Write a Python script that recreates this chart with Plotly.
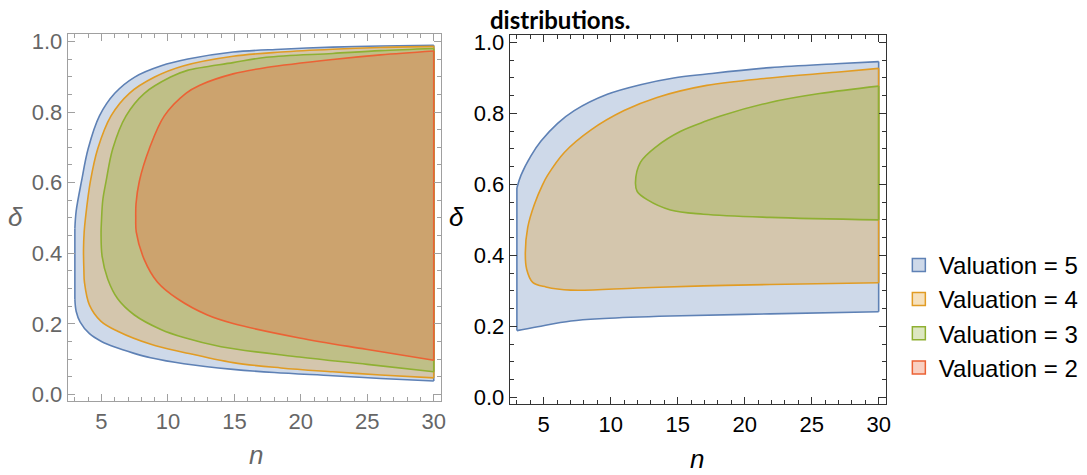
import plotly.graph_objects as go

# ---------------- data ----------------
# Left panel
L5_up_n = [3.0, 3.1, 3.5, 4.0, 4.85, 6.0, 7.5, 9.5, 11.5, 14.9, 18.5, 22.4, 26.0, 30.0]
L5_up_d = [0.47, 0.52, 0.604, 0.696, 0.789, 0.853, 0.899, 0.931, 0.950, 0.970, 0.978, 0.984, 0.987, 0.989]
L5_lo_n = [3.0, 3.1, 3.4, 4.1, 5.0, 6.0, 7.4, 8.7, 11.2, 14.9, 18.0, 22.4, 26.0, 30.0]
L5_lo_d = [0.27, 0.235, 0.205, 0.172, 0.150, 0.134, 0.117, 0.104, 0.087, 0.071, 0.062, 0.053, 0.045, 0.038]

L4_up_n = [3.65, 3.7, 3.8, 4.17, 4.72, 5.72, 7.1, 9.0, 11.2, 14.9, 18.5, 22.4, 26.0, 30.0]
L4_up_d = [0.41, 0.46, 0.50, 0.604, 0.696, 0.789, 0.853, 0.899, 0.931, 0.958, 0.970, 0.978, 0.983, 0.986]
L4_lo_n = [3.68, 3.72, 4.1, 4.97, 6.22, 8.72, 11.2, 14.9, 18.5, 22.4, 26.0, 30.0]
L4_lo_d = [0.35, 0.318, 0.253, 0.207, 0.179, 0.142, 0.119, 0.090, 0.075, 0.064, 0.055, 0.047]

L3_up_n = [4.97, 5.0, 5.1, 5.35, 5.85, 6.85, 8.23, 10.2, 11.47, 14.9, 17.4, 22.4, 26.0, 30.0]
L3_up_d = [0.456, 0.49, 0.55, 0.604, 0.696, 0.789, 0.853, 0.899, 0.918, 0.940, 0.955, 0.966, 0.974, 0.980]
L3_lo_n = [5.05, 5.47, 6.22, 7.48, 9.47, 11.2, 14.0, 19.9, 25.0, 30.0]
L3_lo_d = [0.391, 0.327, 0.271, 0.225, 0.184, 0.161, 0.135, 0.106, 0.085, 0.064]

L2_up_n = [7.58, 7.6, 7.85, 8.6, 9.73, 11.35, 12.4, 14.9, 17.4, 22.4, 26.0, 30.0]
L2_up_d = [0.50, 0.54, 0.604, 0.696, 0.789, 0.853, 0.876, 0.908, 0.926, 0.949, 0.962, 0.973]
L2_lo_n = [7.62, 8.22, 9.22, 10.72, 12.97, 14.9, 19.9, 24.9, 30.0]
L2_lo_d = [0.46, 0.382, 0.318, 0.271, 0.225, 0.201, 0.160, 0.128, 0.097]

# Right panel
R5_up_n = [3.0, 3.31, 4.06, 4.8, 6.04, 7.28, 9.75, 12.22, 14.7, 17.17, 21.9, 26.8, 30.0]
R5_up_d = [0.59, 0.626, 0.681, 0.722, 0.772, 0.808, 0.854, 0.881, 0.900, 0.911, 0.929, 0.940, 0.946]
R5_lo_n = [3.0, 4.55, 7.03, 9.5, 14.46, 21.88, 30.0]
R5_lo_d = [0.188, 0.199, 0.215, 0.222, 0.229, 0.235, 0.241]

R4_up_n = [3.63, 3.81, 4.31, 4.93, 5.3, 6.54, 8.51, 11.0, 13.46, 17.17, 21.88, 26.83, 30.0]
R4_up_d = [0.407, 0.479, 0.544, 0.600, 0.626, 0.690, 0.753, 0.808, 0.845, 0.879, 0.900, 0.916, 0.927]
R4_lo_n = [3.73, 4.18, 5.17, 7.03, 11.98, 16.93, 21.88, 30.0]
R4_lo_d = [0.361, 0.324, 0.311, 0.302, 0.308, 0.314, 0.318, 0.323]

R3_up_n = [11.85, 12.22, 13.46, 15.19, 17.17, 18.2, 21.88, 25.59, 30.0]
R3_up_d = [0.605, 0.662, 0.708, 0.749, 0.779, 0.793, 0.831, 0.856, 0.877]
R3_lo_n = [11.98, 12.72, 14.46, 16.93, 21.88, 30.0]
R3_lo_d = [0.580, 0.557, 0.528, 0.516, 0.507, 0.500]

x_tickvals = [5, 10, 15, 20, 25, 30]
x_ticktext = ["5", "10", "15", "20", "25", "30"]
y_tickvals = [0.0, 0.2, 0.4, 0.6, 0.8, 1.0]
y_ticktext = ["0.0", "0.2", "0.4", "0.6", "0.8", "1.0"]

legend_names = ["Valuation = 5", "Valuation = 4", "Valuation = 3", "Valuation = 2"]

# ---------------- styling ----------------
COL = {5: "#5e81b5", 4: "#e19c24", 3: "#8fb032", 2: "#eb6235"}
FILL = {5: "rgba(94,129,181,0.3)", 4: "rgba(225,156,36,0.3)",
        3: "rgba(143,176,50,0.3)", 2: "rgba(235,98,53,0.3)"}
LW = 1.6
FONT = "Liberation Sans"

fig = go.Figure()


def band_with_edges(xa, ya, k, un, ud, ln, ld):
    """Region with straight vertical edges at both ends (fill between curves)."""
    fig.add_trace(go.Scatter(x=un, y=ud, mode="lines", xaxis=xa, yaxis=ya,
                             line=dict(color=COL[k], width=LW, shape="spline", smoothing=1),
                             showlegend=False, hoverinfo="skip"))
    fig.add_trace(go.Scatter(x=ln, y=ld, mode="lines", xaxis=xa, yaxis=ya, fill="tonexty",
                             fillcolor=FILL[k],
                             line=dict(color=COL[k], width=LW, shape="spline", smoothing=1),
                             showlegend=False, hoverinfo="skip"))
    fig.add_trace(go.Scatter(x=[ln[0], un[0]], y=[ld[0], ud[0]], mode="lines", xaxis=xa, yaxis=ya,
                             line=dict(color=COL[k], width=LW), showlegend=False, hoverinfo="skip"))
    fig.add_trace(go.Scatter(x=[ln[-1], un[-1]], y=[ld[-1], ud[-1]], mode="lines", xaxis=xa, yaxis=ya,
                             line=dict(color=COL[k], width=LW), showlegend=False, hoverinfo="skip"))


def nosed(xa, ya, k, un, ud, ln, ld):
    """Region with a rounded nose on the left and a vertical edge at the right."""
    xs = ln[::-1] + un
    ys = ld[::-1] + ud
    fig.add_trace(go.Scatter(x=xs, y=ys, mode="lines", xaxis=xa, yaxis=ya, fill="toself",
                             fillcolor=FILL[k],
                             line=dict(color=COL[k], width=LW, shape="spline", smoothing=1),
                             showlegend=False, hoverinfo="skip"))
    fig.add_trace(go.Scatter(x=[ln[-1], un[-1]], y=[ld[-1], ud[-1]], mode="lines", xaxis=xa, yaxis=ya,
                             line=dict(color=COL[k], width=LW), showlegend=False, hoverinfo="skip"))


# left panel
band_with_edges("x", "y", 5, L5_up_n, L5_up_d, L5_lo_n, L5_lo_d)
nosed("x", "y", 4, L4_up_n, L4_up_d, L4_lo_n, L4_lo_d)
nosed("x", "y", 3, L3_up_n, L3_up_d, L3_lo_n, L3_lo_d)
nosed("x", "y", 2, L2_up_n, L2_up_d, L2_lo_n, L2_lo_d)

# right panel
band_with_edges("x2", "y2", 5, R5_up_n, R5_up_d, R5_lo_n, R5_lo_d)
nosed("x2", "y2", 4, R4_up_n, R4_up_d, R4_lo_n, R4_lo_d)
nosed("x2", "y2", 3, R3_up_n, R3_up_d, R3_lo_n, R3_lo_d)

# legend entries (square swatches)
for k, name in zip([5, 4, 3, 2], legend_names):
    fig.add_trace(go.Scatter(x=[None], y=[None], mode="markers", xaxis="x2", yaxis="y2",
                             marker=dict(symbol="square", size=13, color=FILL[k],
                                         line=dict(color=COL[k], width=1.5)),
                             name=name, legendgroup=str(k), showlegend=True))


def axis_style(color_line, color_text, domain, anchor, is_x):
    d = dict(domain=domain, anchor=anchor, showgrid=False, zeroline=False,
             showline=True, linecolor=color_line, linewidth=1, mirror="ticks",
             ticks="inside", ticklen=7, tickwidth=1, tickcolor=color_line,
             tickfont=dict(family=FONT, size=22, color=color_text))
    if is_x:
        d.update(range=[2.46, 30.54], tickvals=x_tickvals, ticktext=x_ticktext,
                 minor=dict(dtick=1, tick0=0, ticks="inside", ticklen=4, tickcolor=color_line))
    else:
        d.update(range=[-0.02, 1.02], tickvals=y_tickvals, ticktext=y_ticktext,
                 minor=dict(dtick=0.05, tick0=0, ticks="inside", ticklen=4, tickcolor=color_line))
    return d


W, H = 1087, 475
GRAY_LINE, GRAY_TEXT = "#a0a0a0", "#666666"
BLACK_LINE, BLACK_TEXT = "#333333", "#000000"


def label(text, X, Y, size, color, family=FONT):
    return dict(text=text, x=X / W, y=1 - Y / H, xref="paper", yref="paper",
                xanchor="center", yanchor="middle", showarrow=False,
                font=dict(family=family, size=size, color=color))


fig.update_layout(
    width=W, height=H, autosize=False,
    margin=dict(l=0, r=0, t=0, b=0),
    paper_bgcolor="white", plot_bgcolor="white",
    xaxis=axis_style(GRAY_LINE, GRAY_TEXT, [68 / W, 443 / W], "y", True),
    yaxis=axis_style(GRAY_LINE, GRAY_TEXT, [1 - 405 / H, 1 - 30 / H], "x", False),
    xaxis2=axis_style(BLACK_LINE, BLACK_TEXT, [512 / W, 890 / W], "y2", True),
    yaxis2=axis_style(BLACK_LINE, BLACK_TEXT, [1 - 408 / H, 1 - 31 / H], "x2", False),
    legend=dict(x=903 / W, xanchor="left", y=1 - 318 / H, yanchor="middle",
                font=dict(family=FONT, size=24, color="black"),
                tracegroupgap=0, bgcolor="rgba(0,0,0,0)"),
    showlegend=True,
    annotations=[
        label("<i>δ</i>", 16, 217, 26, GRAY_TEXT),
        label("<i>n</i>", 257, 460, 26, GRAY_TEXT),
        label("<i>δ</i>", 459, 217, 26, "black"),
        label("<i>n</i>", 700, 464, 26, "black"),
        label("<b>distributions.</b>", 563, 15, 24, "black", family="Lato"),
    ],
)

fig.write_html("out.html",
               config={"displayModeBar": False},
               post_script="document.body.style.margin='0';document.body.style.overflow='hidden';")
